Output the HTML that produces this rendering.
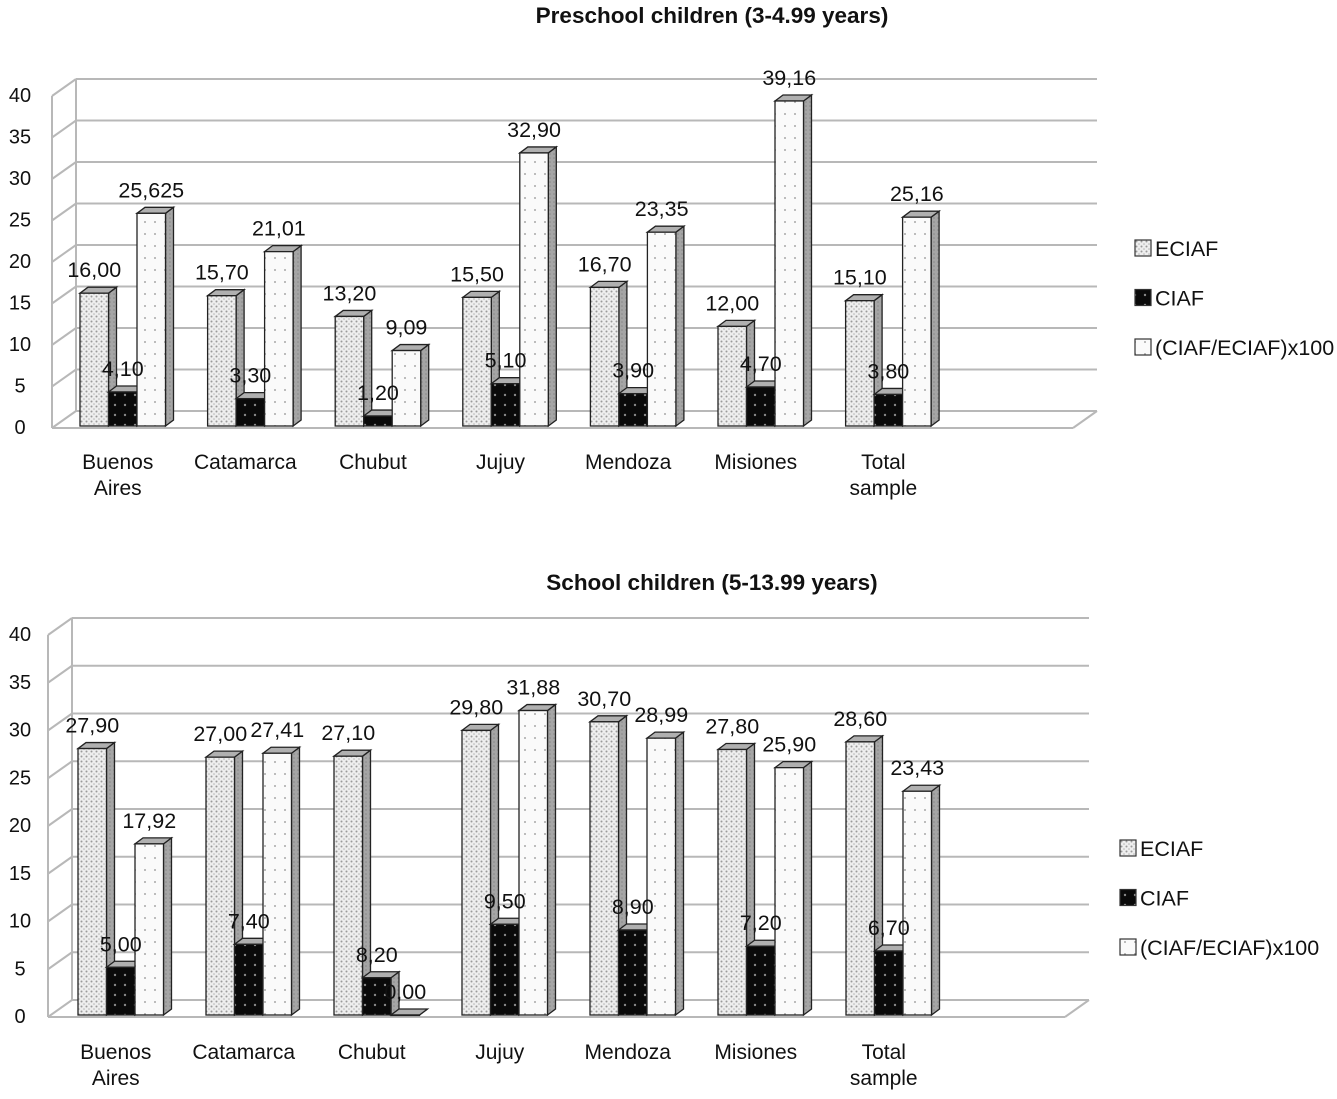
<!DOCTYPE html>
<html><head><meta charset="utf-8"><style>
body{margin:0;background:#fff;}
svg text{font-family:"Liberation Sans",Arial,sans-serif;fill:#111;}
</style></head><body>
<svg id="chart" width="1337" height="1094" xmlns="http://www.w3.org/2000/svg">
<defs>
<pattern id="pE" width="5" height="5" patternUnits="userSpaceOnUse"><rect width="5" height="5" fill="#eeeeee"/><circle cx="1.5" cy="1.5" r="1" fill="#9a9a9a"/><circle cx="4" cy="4" r="0.8" fill="#b5b5b5"/></pattern>
<pattern id="pC" width="10" height="10" patternUnits="userSpaceOnUse"><rect width="10" height="10" fill="#0a0a0a"/><circle cx="5" cy="5" r="1.2" fill="#888"/></pattern>
<pattern id="pR" width="10" height="12" patternUnits="userSpaceOnUse"><rect width="10" height="12" fill="#fafafa"/><circle cx="5" cy="6" r="1" fill="#a8a8a8"/></pattern>
<pattern id="pS" width="4" height="4" patternUnits="userSpaceOnUse"><rect width="4" height="4" fill="#a5a5a5"/><circle cx="2" cy="2" r="0.8" fill="#888"/></pattern>
</defs>
</svg>
<script>
const categories = ["Buenos|Aires","Catamarca","Chubut","Jujuy","Mendoza","Misiones","Total|sample"];
const yTicks = [0,5,10,15,20,25,30,35,40];
const preECIAF = [16.00,15.70,13.20,15.50,16.70,12.00,15.10];
const preCIAF = [4.10,3.30,1.20,5.10,3.90,4.70,3.80];
const preRatio = [25.625,21.01,9.09,32.90,23.35,39.16,25.16];
const preECIAFLabels = ["16,00","15,70","13,20","15,50","16,70","12,00","15,10"];
const preCIAFLabels = ["4,10","3,30","1,20","5,10","3,90","4,70","3,80"];
const preRatioLabels = ["25,625","21,01","9,09","32,90","23,35","39,16","25,16"];
const schECIAF = [27.90,27.00,27.10,29.80,30.70,27.80,28.60];
const schCIAF = [5.00,7.40,3.9,9.50,8.90,7.20,6.70];
const schRatio = [17.92,27.41,0,31.88,28.99,25.90,23.43];
const schECIAFLabels = ["27,90","27,00","27,10","29,80","30,70","27,80","28,60"];
const schCIAFLabels = ["5,00","7,40","8,20","9,50","8,90","7,20","6,70"];
const schRatioLabels = ["17,92","27,41","0,00","31,88","28,99","25,90","23,43"];
const legendNames = ["ECIAF","CIAF","(CIAF/ECIAF)x100"];

const svg = document.getElementById('chart');
const NS = "http://www.w3.org/2000/svg";
function mk(tag, attrs, parent){
  const e = document.createElementNS(NS, tag);
  for (const k in attrs) e.setAttribute(k, attrs[k]);
  (parent||svg).appendChild(e);
  return e;
}
function txt(s, x, y, size, anchor, weight, parent){
  const t = mk('text', {x:x, y:y, 'font-size':size, 'text-anchor':anchor||'middle', 'font-weight':weight||'normal'}, parent);
  t.textContent = s;
  return t;
}

function drawChart(cfg){
  const g = mk('g', {});
  
  
  const y = v => cfg.base - v*cfg.scale;
  const DX = 24, DY = -17;
  const title = txt(cfg.title, 712, cfg.titleY, 22.5, 'middle', 'bold', g);
  
  
  const grid = mk('g', {stroke:'#b8b8b8', 'stroke-width':2, fill:'none'}, g);
  
  
  yTicks.forEach(t => {
    const yf = y(t)+2;
    mk('line', {x1:cfg.x0+DX, y1:yf+DY, x2:cfg.xR+DX, y2:yf+DY}, grid);
    mk('line', {x1:cfg.x0, y1:yf, x2:cfg.x0+DX, y2:yf+DY}, grid);
    const lab = txt(String(t), 20, y(t)+8, 20, 'middle', 'normal', g);
    
    
  });
  const yTop = y(40)+2, yBot = y(0)+2;
  mk('line', {x1:cfg.x0, y1:yTop, x2:cfg.x0, y2:yBot}, grid);
  mk('line', {x1:cfg.x0+DX, y1:yTop+DY, x2:cfg.x0+DX, y2:yBot+DY}, grid);
  mk('line', {x1:cfg.x0, y1:yBot, x2:cfg.xR, y2:yBot}, grid);
  mk('line', {x1:cfg.xR, y1:yBot, x2:cfg.xR+DX, y2:yBot+DY}, grid);
  const series = [
    {vals:cfg.e, labels:cfg.eL, fill:'url(#pE)', name:'eciaf'},
    {vals:cfg.c, labels:cfg.cL, fill:'url(#pC)', name:'ciaf'},
    {vals:cfg.r, labels:cfg.rL, fill:'url(#pR)', name:'ratio'}
  ];
  const W = 28.5, bx = 8, by = -6;
  const labelLayer = mk('g', {});
  categories.forEach((cat, i) => {
    const gx = cfg.first + i*cfg.step;
    series.forEach((s, k) => {
      const v = s.vals[i];
      const x = gx + k*W, yt = y(v), yb = cfg.base;
      const bar = mk('g', {stroke:'#222', 'stroke-width':1.3}, g);
      
      
      mk('polygon', {points:`${x+W},${yb} ${x+W+bx},${yb+by} ${x+W+bx},${yt+by} ${x+W},${yt}`, fill:'url(#pS)'}, bar);
      mk('polygon', {points:`${x},${yt} ${x+bx},${yt+by} ${x+W+bx},${yt+by} ${x+W},${yt}`, fill:'#b0b0b0'}, bar);
      mk('rect', {x:x, y:yt, width:W, height:Math.max(yb-yt,0.5), fill:s.fill}, bar);
      const lab = txt(s.labels[i], x+W/2, yt-16, 21.5, 'middle', 'normal', labelLayer);
      
      
    });
    const parts = cat.split('|');
    parts.forEach((p, j) => {
      const cl = txt(p, gx + 1.5*W - 5, cfg.catY + j*26, 21, 'middle', 'normal', g);
      
      
    });
  });
  svg.appendChild(labelLayer);
  const fills = ['url(#pE)','url(#pC)','url(#pR)'];
  legendNames.forEach((n, k) => {
    const ly = cfg.legY + k*49.5;
    const le = mk('g', {}, g);
    
    
    mk('rect', {x:cfg.legX, y:ly-14, width:16, height:16, fill:fills[k], stroke:'#333', 'stroke-width':1.2}, le);
    txt(n, cfg.legX+20, ly+2, 21.5, 'start', 'normal', le);
  });
}

drawChart({name:'preschool-chart', title:'Preschool children (3-4.99 years)', titleY:23,
  base:426, scale:8.3, x0:52, xR:1073, first:80, step:127.6, catY:469,
  e:preECIAF, c:preCIAF, r:preRatio, eL:preECIAFLabels, cL:preCIAFLabels, rL:preRatioLabels,
  legX:1135, legY:254});
drawChart({name:'school-chart', title:'School children (5-13.99 years)', titleY:590,
  base:1015, scale:9.55, x0:48, xR:1065, first:78, step:128, catY:1059,
  e:schECIAF, c:schCIAF, r:schRatio, eL:schECIAFLabels, cL:schCIAFLabels, rL:schRatioLabels,
  legX:1120, legY:854});
</script>
</body></html>
